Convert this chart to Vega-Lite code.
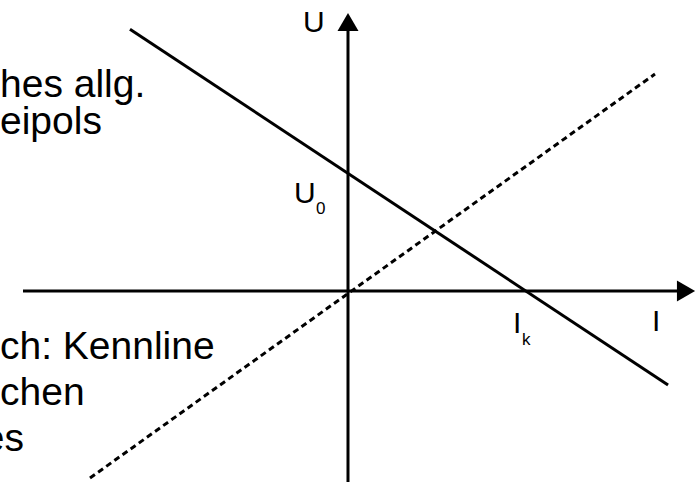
{
  "$schema": "https://vega.github.io/schema/vega-lite/v6.json",
  "width": 700,
  "height": 482,
  "padding": 0,
  "autosize": {"type": "none"},
  "background": "white",
  "config": {"view": {"stroke": null}},
  "layer": [
    {
      "data": {"values": [
        {"part": "I-Achse", "I1": -1.8156, "U1": 0, "I2": 1.8883, "U2": 0},
        {"part": "U-Achse", "I1": 0, "U1": -1.605, "I2": 0, "U2": 2.2605}
      ]},
      "mark": {"type": "rule", "stroke": "black", "strokeWidth": 3},
      "encoding": {
        "x": {"field": "I1", "type": "quantitative", "scale": {"domain": [-1.9441, 1.9665], "nice": false, "zero": false}, "axis": null},
        "y": {"field": "U1", "type": "quantitative", "scale": {"domain": [-1.605, 2.4454], "nice": false, "zero": false}, "axis": null},
        "x2": {"field": "I2"},
        "y2": {"field": "U2"}
      }
    },
    {
      "data": {"values": [
        {"kennlinie": "Zweipol", "I1": -1.218, "U1": 2.2, "I2": 1.788, "U2": -0.79}
      ]},
      "mark": {"type": "rule", "stroke": "black", "strokeWidth": 3},
      "encoding": {
        "x": {"field": "I1", "type": "quantitative"},
        "y": {"field": "U1", "type": "quantitative"},
        "x2": {"field": "I2"},
        "y2": {"field": "U2"}
      }
    },
    {
      "data": {"values": [
        {"kennlinie": "Verbraucher", "I1": -1.4413, "U1": -1.5714, "I2": 1.7151, "U2": 1.8235}
      ]},
      "mark": {"type": "rule", "stroke": "black", "strokeWidth": 3, "strokeDash": [6, 4]},
      "encoding": {
        "x": {"field": "I1", "type": "quantitative"},
        "y": {"field": "U1", "type": "quantitative"},
        "x2": {"field": "I2"},
        "y2": {"field": "U2"}
      }
    },
    {
      "data": {"values": [
        {"arrow": "U", "I": 0, "U": 2.2605, "shape": "triangle-up"},
        {"arrow": "I", "I": 1.8883, "U": 0, "shape": "triangle-right"}
      ]},
      "mark": {"type": "point", "filled": true, "opacity": 1, "color": "black", "size": 441, "strokeWidth": 0},
      "encoding": {
        "x": {"field": "I", "type": "quantitative"},
        "y": {"field": "U", "type": "quantitative"},
        "shape": {"field": "shape", "type": "nominal", "scale": null, "legend": null}
      }
    },
    {
      "data": {"values": [
        {"text": "hes allg.", "I": -1.9441, "U": 1.6303},
        {"text": "eipols", "I": -1.9441, "U": 1.3193},
        {"text": "ch: Kennline", "I": -1.9441, "U": -0.5714},
        {"text": "chen", "I": -1.9441, "U": -0.958}
      ]},
      "mark": {"type": "text", "align": "left", "baseline": "alphabetic", "font": "Liberation Sans", "fontSize": 39, "color": "black"},
      "encoding": {
        "x": {"field": "I", "type": "quantitative"},
        "y": {"field": "U", "type": "quantitative"},
        "text": {"field": "text"}
      }
    },
    {
      "data": {"values": [
        {"text": "es", "I": -1.8101, "U": -1.3445}
      ]},
      "mark": {"type": "text", "align": "right", "baseline": "alphabetic", "font": "Liberation Sans", "fontSize": 39, "color": "black"},
      "encoding": {
        "x": {"field": "I", "type": "quantitative"},
        "y": {"field": "U", "type": "quantitative"},
        "text": {"field": "text"}
      }
    },
    {
      "data": {"values": [
        {"text": "U", "I": -0.2514, "U": 2.1765},
        {"text": "U", "I": -0.3017, "U": 0.7395},
        {"text": "I", "I": 0.9218, "U": -0.3529},
        {"text": "I", "I": 1.6983, "U": -0.3361}
      ]},
      "mark": {"type": "text", "align": "left", "baseline": "alphabetic", "font": "Liberation Sans", "fontSize": 30, "color": "black"},
      "encoding": {
        "x": {"field": "I", "type": "quantitative"},
        "y": {"field": "U", "type": "quantitative"},
        "text": {"field": "text"}
      }
    },
    {
      "data": {"values": [
        {"text": "0", "I": -0.1788, "U": 0.6471},
        {"text": "k", "I": 0.9721, "U": -0.4538}
      ]},
      "mark": {"type": "text", "align": "left", "baseline": "alphabetic", "font": "Liberation Sans", "fontSize": 17, "color": "black"},
      "encoding": {
        "x": {"field": "I", "type": "quantitative"},
        "y": {"field": "U", "type": "quantitative"},
        "text": {"field": "text"}
      }
    }
  ]
}
